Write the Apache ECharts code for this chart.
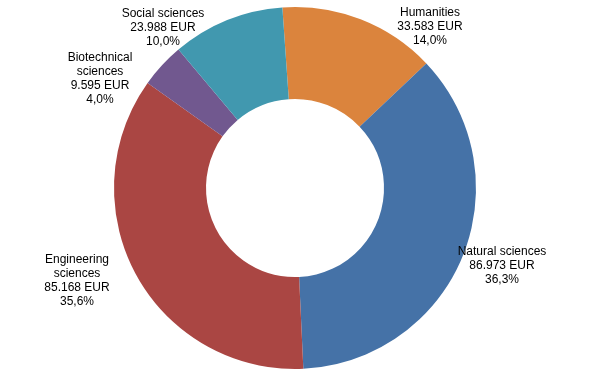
<!DOCTYPE html>
<html>
<head>
<meta charset="utf-8">
<script src="https://cdn.jsdelivr.net/npm/echarts@6/dist/echarts.min.js"></script>
<style>
html,body{margin:0;padding:0;background:#fff;}
#chart{width:591px;height:383px;}
</style>
</head>
<body>
<div id="chart"></div>
<script>
var categories = ['Humanities', 'Natural sciences', 'Engineering sciences', 'Biotechnical sciences', 'Social sciences'];
var labelNames = ['Humanities', 'Natural sciences', 'Engineering\nsciences', 'Biotechnical\nsciences', 'Social sciences'];
var values = [33583, 86973, 85168, 9595, 23988];
var percents = ['14,0%', '36,3%', '35,6%', '4,0%', '10,0%'];
var colors = ['#DB843D', '#4572A7', '#AA4643', '#71588F', '#4198AF'];
var labelPos = [[430, 27], [502, 266], [77, 281], [100, 79], [163, 28]];

function fmt(v) {
  return String(v).replace(/\B(?=(\d{3})+(?!\d))/g, '.');
}

var chart = echarts.init(document.getElementById('chart'));
chart.setOption({
  animation: false,
  backgroundColor: '#fff',
  series: [{
    type: 'pie',
    center: [295, 188],
    radius: [89, 181],
    startAngle: 94,
    clockwise: true,
    avoidLabelOverlap: false,
    data: categories.map(function (c, i) {
      return { name: c, value: values[i], itemStyle: { color: colors[i] } };
    }),
    label: {
      show: true,
      position: 'outside',
      color: '#000',
      fontFamily: 'Liberation Sans, Arial, sans-serif',
      fontSize: 12,
      lineHeight: 14,
      align: 'center',
      formatter: function (p) {
        var i = p.dataIndex;
        return labelNames[i] + '\n' + fmt(values[i]) + ' EUR\n' + percents[i];
      }
    },
    labelLine: { show: false },
    labelLayout: function (p) {
      var pos = labelPos[p.dataIndex];
      return { x: pos[0], y: pos[1], align: 'center', verticalAlign: 'middle' };
    },
    emphasis: { disabled: true }
  }]
});
</script>
</body>
</html>
